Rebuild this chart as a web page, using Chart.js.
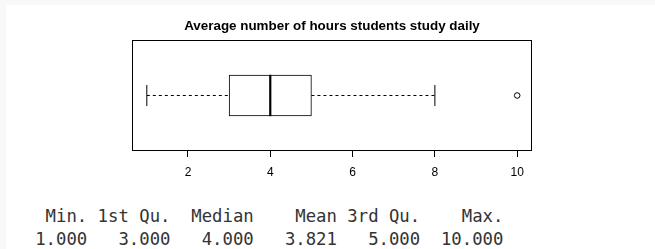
<!DOCTYPE html>
<html><head><meta charset="utf-8">
<script src="https://cdn.jsdelivr.net/npm/chart.js@4"></script>
<style>
html,body{margin:0;padding:0;background:#f8f8f8;width:655px;height:249px;overflow:hidden;}
#page{position:absolute;left:6px;top:5px;width:649px;height:244px;background:#fff;}
#wrap{position:absolute;left:0;top:0;width:655px;height:190px;}
pre{position:absolute;left:14.4px;top:204.5px;margin:0;font-family:'DejaVu Sans Mono',monospace;font-size:17.3px;line-height:23px;color:#333;}
</style></head><body>
<div id="page"></div>
<div id="wrap"><canvas id="c" width="655" height="190"></canvas></div>
<pre id="summary"></pre>
<script>
const chartTitle = 'Average number of hours students study daily';
const categories = ['Hours'];
const whiskerLow = [1];
const quartile1 = [3];
const medians = [4];
const quartile3 = [5];
const whiskerHigh = [8];
const outliers = [10];
const xTicks = [2, 4, 6, 8, 10];
const xRange = [0.64, 10.36];
const summaryLabels = ['Min.', '1st Qu.', 'Median', 'Mean', '3rd Qu.', 'Max.'];
const summaryValues = ['1.000', '3.000', '4.000', '3.821', '5.000', '10.000'];

// summary text (R style print)
const w = Math.max(...summaryLabels.map(s => s.length), ...summaryValues.map(s => s.length));
document.getElementById('summary').textContent =
  summaryLabels.map(s => s.padStart(w)).join(' ') + '\n' +
  summaryValues.map(s => s.padStart(w)).join(' ');

const cat = categories[0];
const framePlugin = {
  id: 'frame',
  afterDatasetsDraw(chart) {
    const { ctx, chartArea: a } = chart;
    ctx.save();
    ctx.strokeStyle = '#000';
    ctx.lineWidth = 1;
    const x0 = Math.round(a.left) + 0.5, y0 = Math.round(a.top) + 0.5;
    const x1 = Math.round(a.right) - 0.5, y1 = Math.round(a.bottom) - 0.5;
    ctx.strokeRect(x0, y0, x1 - x0, y1 - y0);
    ctx.restore();
  }
};

new Chart(document.getElementById('c'), {
  type: 'bar',
  data: {
    labels: categories,
    datasets: [
      {
        type: 'bar', label: 'box', order: 3,
        data: categories.map((c, i) => [quartile1[i], quartile3[i]]),
        backgroundColor: '#fff', borderColor: '#000', borderWidth: 1,
        borderSkipped: false, barThickness: 41
      },
      {
        type: 'line', label: 'lower whisker', order: 2,
        data: [{ x: whiskerLow[0], y: cat }, { x: quartile1[0], y: cat }],
        borderColor: '#000', borderWidth: 1, borderDash: [3, 3], pointRadius: 0, fill: false
      },
      {
        type: 'line', label: 'upper whisker', order: 2,
        data: [{ x: quartile3[0], y: cat }, { x: whiskerHigh[0], y: cat }],
        borderColor: '#000', borderWidth: 1, borderDash: [3, 3], pointRadius: 0, fill: false
      },
      {
        type: 'line', label: 'whisker caps', order: 1, showLine: false,
        data: [{ x: whiskerLow[0], y: cat }, { x: whiskerHigh[0], y: cat }],
        pointStyle: 'line', pointRotation: 90, pointRadius: 10.5,
        pointBorderColor: '#000', pointBorderWidth: 1
      },
      {
        type: 'line', label: 'median', order: 1, showLine: false,
        data: medians.map(m => ({ x: m, y: cat })),
        pointStyle: 'line', pointRotation: 90, pointRadius: 20.7,
        pointBorderColor: '#000', pointBorderWidth: 2.2
      },
      {
        type: 'line', label: 'outliers', order: 1, showLine: false,
        data: outliers.map(o => ({ x: o, y: cat })),
        pointStyle: 'circle', pointRadius: 2.8,
        pointBorderColor: '#000', pointBackgroundColor: '#fff', pointBorderWidth: 1
      }
    ]
  },
  options: {
    indexAxis: 'y',
    responsive: false,
    animation: false,
    events: [],
    layout: { padding: { left: 132, right: 123, top: 0, bottom: 2.6 } },
    plugins: {
      legend: { display: false },
      tooltip: { enabled: false },
      title: {
        display: true, text: chartTitle, color: '#000',
        font: { family: "'Liberation Sans', Arial, sans-serif", size: 13.4, weight: 'bold' },
        padding: { top: 18, bottom: 5.9 }
      }
    },
    scales: {
      x: {
        type: 'linear', min: xRange[0], max: xRange[1],
        afterBuildTicks: s => { s.ticks = xTicks.map(v => ({ value: v })); },
        border: { display: false },
        grid: { drawOnChartArea: false, drawTicks: true, tickLength: 6, color: '#000' },
        ticks: {
          color: '#000', padding: 8, maxRotation: 0,
          font: { family: "'Liberation Sans', Arial, sans-serif", size: 12 }
        }
      },
      y: { type: 'category', display: false }
    }
  },
  plugins: [framePlugin]
});
</script>
</body></html>
